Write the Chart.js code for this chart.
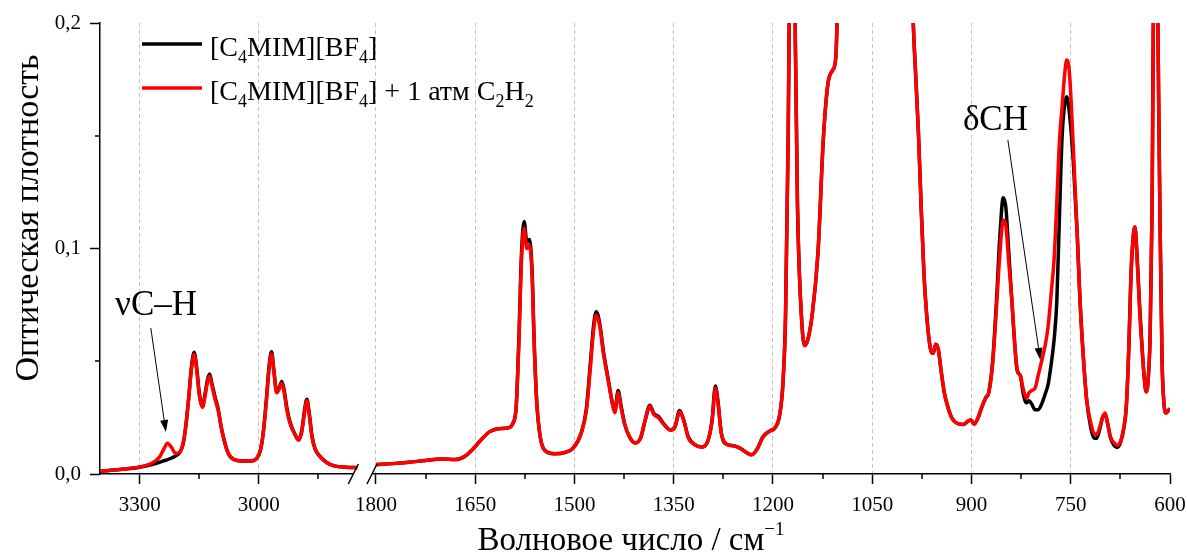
<!DOCTYPE html>
<html>
<head>
<meta charset="utf-8">
<script src="https://cdn.jsdelivr.net/npm/chart.js@4.4.0/dist/chart.umd.min.js"></script>
<style>
  html, body { margin: 0; padding: 0; background: #fff; }
</style>
</head>
<body>
<canvas id="myChart" width="1187" height="553"></canvas>
<script>
// wavenumber (cm-1) and optical density
const wavenumbers = [
  3400, 3350, 3300, 3270, 3250, 3240, 3230, 3220, 3210, 3200, 3191, 3184, 3177, 3170, 3163, 3157, 3150,
  3142, 3135, 3129, 3124, 3118, 3110, 3102, 3095, 3088, 3080, 3072, 3060, 3040, 3020, 3006, 2996, 2989,
  2981, 2974, 2968, 2962, 2955, 2949, 2942, 2936, 2929, 2921, 2910, 2900, 2892, 2885, 2879, 2873, 2866,
  2858, 2846, 2830, 2810, 2780, 2752,
  1800, 1775, 1750, 1725, 1700, 1680, 1666, 1652, 1640, 1628, 1615, 1600, 1593, 1588, 1584, 1580, 1576,
  1572, 1568, 1564, 1561, 1557, 1552, 1545, 1530, 1515, 1502, 1490, 1482, 1476, 1471, 1467, 1462, 1456,
  1449, 1443, 1439, 1434, 1430, 1424, 1416, 1408, 1400, 1393, 1386, 1380, 1373, 1365, 1355, 1348, 1341,
  1335, 1328, 1318, 1308, 1298, 1292, 1287, 1283, 1278, 1270, 1260, 1250, 1240, 1232, 1224, 1215, 1205,
  1197, 1190, 1185, 1181, 1177, 1173, 1170, 1167, 1163, 1157, 1152, 1147, 1141, 1132, 1124, 1117, 1110,
  1105, 1100, 1080, 1040, 1005, 993, 988, 984, 980, 976, 972, 967, 962, 958, 954, 950, 946, 941, 936,
  930, 922, 912, 905, 901, 896, 890, 884, 878, 874, 868, 862, 857, 852, 848, 844, 839, 834, 831, 826,
  822, 817, 813, 809, 804, 799, 794, 788, 784, 779, 775, 771, 767, 763, 759, 756, 752, 746, 740, 736,
  731, 726, 720, 715, 711, 706, 702, 698, 694, 690, 685, 680, 675, 670, 666, 662, 659, 655, 653, 650,
  646, 642, 639, 636, 633, 630, 627, 624, 621, 618, 615, 612, 609, 606, 603, 600
];

const absPure = [
  .0012, .002, .003, .0042, .0052, .0058, .0064, .0071, .008, .0094, .013, .021, .033, .047, .054, .048, .036,
  .030, .036, .042, .0443, .040, .034, .0285, .021, .0155, .0105, .0077, .0063, .0058, .0058, .0068, .0105, .018,
  .033, .048, .0542, .046, .0365, .038, .041, .037, .029, .0228, .018, .0153, .019, .028, .0332, .027, .0168,
  .011, .0078, .0052, .0036, .003, .0028,
  .0042, .0046, .0052, .006, .0066, .0064, .0078, .0115, .0155, .0188, .0201, .0205, .0225, .030, .060, .098, .112,
  .103, .104, .090, .060, .032, .017, .0105, .009, .0095, .0115, .018, .029, .049, .066, .072, .067, .054,
  .042, .032, .0278, .037, .031, .022, .016, .0138, .016, .024, .0305, .0268, .0255, .0222, .0195, .021, .0282,
  .024, .0165, .013, .012, .015, .024, .039, .032, .018, .0132, .0125, .0115, .0095, .0085, .011, .0165, .019,
  .0205, .026, .040, .070, .150, .28, .32, .21, .120, .070, .057, .060, .070, .098, .148, .173, .179,
  .185, .24, .45, .60, .42, .25, .20, .175, .150, .118, .090, .068, .0555, .0535, .0575, .055, .046, .036, .030,
  .025, .0225, .022, .0235, .024, .0222, .025, .030, .034, .036, .050, .078, .106, .1225, .118, .100, .077, .055, .046, .0435,
  .036, .0315, .0325, .031, .0285, .0285, .031, .036, .040, .050, .060, .077, .115, .150, .164, .1673, .160, .138, .105, .077,
  .052, .033, .021, .016, .0158, .020, .025, .0265, .022, .0162, .0128, .0118, .0138, .020, .030, .058, .088, .107, .1095, .098,
  .075, .055, .043, .0365, .042, .062, .120, .25, .27, .19, .11, .05, .031, .027, .028, .029
];

const absC2H2 = [
  .0012, .002, .0031, .0048, .0075, .0108, .0136, .0118, .0092, .0096, .0135, .021, .033, .046, .053, .047, .035,
  .0295, .035, .041, .0433, .039, .033, .028, .021, .0155, .0105, .0077, .0063, .0058, .0058, .0068, .0105, .018,
  .032, .047, .0532, .045, .036, .0375, .0402, .036, .028, .0222, .0178, .015, .0185, .027, .0325, .026, .0163,
  .011, .0078, .0051, .0036, .003, .0028,
  .0042, .0046, .0052, .006, .0066, .0064, .0078, .0115, .0155, .0188, .0201, .0205, .0225, .030, .058, .095, .109,
  .100, .1015, .088, .059, .032, .017, .0105, .009, .0095, .0115, .018, .028, .047, .064, .0705, .066, .053,
  .0415, .0318, .0272, .036, .030, .022, .016, .0138, .016, .024, .030, .0264, .025, .022, .0195, .021, .0276,
  .024, .016, .013, .012, .015, .0235, .038, .031, .018, .0132, .0125, .0115, .0095, .0085, .011, .0165, .019,
  .0205, .026, .040, .070, .150, .28, .32, .21, .120, .070, .057, .060, .070, .098, .148, .173, .179,
  .185, .24, .45, .60, .42, .25, .20, .175, .150, .118, .090, .068, .0555, .0535, .0575, .055, .046, .036, .030,
  .025, .0225, .022, .0235, .024, .0222, .025, .030, .034, .036, .049, .075, .098, .1126, .110, .095, .077, .055, .0465, .0435,
  .038, .0335, .036, .037, .038, .044, .050, .058, .066, .082, .096, .121, .148, .163, .178, .1836, .178, .144, .105, .077,
  .052, .033, .023, .018, .0175, .021, .025, .027, .022, .0165, .014, .0128, .0143, .0205, .030, .058, .088, .107, .1095, .097,
  .073, .055, .043, .0365, .042, .062, .120, .25, .27, .19, .11, .05, .031, .027, .028, .029
];

const seriesNames = ['[C4MIM][BF4]', '[C4MIM][BF4] + 1 атм C2H2'];
const seriesColors = ['#000000', '#ff0000'];
const xTickLabels = [3300, 3000, 1800, 1650, 1500, 1350, 1200, 1050, 900, 750, 600];
const xMinorTicks = [3150, 2850, 1725, 1575, 1425, 1275, 1125, 975, 825, 675];
const yTickLabels = [0, 0.1, 0.2];
const yMinorTicks = [0.05, 0.15];
const axisBreaks = [2762, 1806];

// annotations: [text, wavenumber, absorbance] and arrows [from wn, from abs, to wn, to abs]
const notes = [['νC–H', 3362, 0.0705], ['δCH', 913, 0.1525]];
const arrows = [[3272, 0.0647, 3234, 0.0186], [845, 0.1481, 796, 0.0506]];

// broken axis: 3400-2750 compressed, then 1800-600
const toAxis = wn => wn > 2000 ? (3400 - wn) * 0.6 : 417 + (1800 - wn);
const fromAxis = u => u < 400 ? 3400 - u / 0.6 : 1800 - (u - 417);

function buildPoints(values) {
  const pts = [];
  wavenumbers.forEach((wn, i) => {
    if (i > 0 && wavenumbers[i - 1] > 2000 && wn <= 2000) pts.push({x: 400, y: null});
    pts.push({x: toAxis(wn), y: values[i]});
  });
  return pts;
}

const SERIF = '"Liberation Serif", "Times New Roman", serif';

// parts: [text, 0 normal | 1 subscript | -1 superscript]
function partFont(p, size) {
  if (p[1] === 1) return Math.round(size * 0.65);
  if (p[1] === -1) return Math.round(size * 0.58);
  return size;
}
function drawRich(ctx, parts, x, y, size) {
  parts.forEach(p => {
    ctx.font = partFont(p, size) + 'px ' + SERIF;
    const dy = p[1] === 1 ? size * 0.26 : (p[1] === -1 ? -size * 0.45 : 0);
    ctx.fillText(p[0], x, y + dy);
    x += ctx.measureText(p[0]).width;
  });
  return x;
}
function richWidth(ctx, parts, size) {
  let w = 0;
  parts.forEach(p => {
    ctx.font = partFont(p, size) + 'px ' + SERIF;
    w += ctx.measureText(p[0]).width;
  });
  return w;
}

const legendParts = [
  [['[C', 0], ['4', 1], ['MIM][BF', 0], ['4', 1], [']', 0]],
  [['[C', 0], ['4', 1], ['MIM][BF', 0], ['4', 1], ['] + 1 атм C', 0], ['2', 1], ['H', 0], ['2', 1]]
];

const decorPlugin = {
  id: 'decor',
  afterDraw(chart) {
    const {ctx, chartArea: ca, scales: {x, y}} = chart;
    ctx.save();
    ctx.strokeStyle = '#000';
    ctx.fillStyle = '#000';
    ctx.lineWidth = 1.5;

    // minor ticks
    xMinorTicks.forEach(w => {
      const px = Math.round(x.getPixelForValue(toAxis(w)));
      ctx.beginPath(); ctx.moveTo(px, ca.bottom); ctx.lineTo(px, ca.bottom + 5); ctx.stroke();
    });
    yMinorTicks.forEach(v => {
      const py = Math.round(y.getPixelForValue(v));
      ctx.beginPath(); ctx.moveTo(ca.left, py); ctx.lineTo(ca.left - 5, py); ctx.stroke();
    });

    // axis break
    const b1 = x.getPixelForValue(toAxis(axisBreaks[0]));
    const b2 = x.getPixelForValue(toAxis(axisBreaks[1]));
    ctx.fillStyle = '#fff';
    ctx.fillRect(b1, ca.bottom - 2.5, b2 - b1, 5);
    ctx.fillStyle = '#000';
    [b1, b2].forEach(b => {
      ctx.beginPath(); ctx.moveTo(b - 5, ca.bottom + 10); ctx.lineTo(b + 5, ca.bottom - 10); ctx.stroke();
    });

    // arrows
    ctx.lineWidth = 1;
    arrows.forEach(a => {
      const x1 = x.getPixelForValue(toAxis(a[0])), y1 = y.getPixelForValue(a[1]);
      const x2 = x.getPixelForValue(toAxis(a[2])), y2 = y.getPixelForValue(a[3]);
      const ang = Math.atan2(y2 - y1, x2 - x1);
      const hl = 12, hw = 4;
      const bx = x2 - hl * Math.cos(ang), by = y2 - hl * Math.sin(ang);
      ctx.beginPath(); ctx.moveTo(x1, y1); ctx.lineTo(bx, by); ctx.stroke();
      ctx.beginPath();
      ctx.moveTo(x2, y2);
      ctx.lineTo(bx + hw * Math.sin(ang), by - hw * Math.cos(ang));
      ctx.lineTo(bx - hw * Math.sin(ang), by + hw * Math.cos(ang));
      ctx.closePath(); ctx.fill();
    });

    // annotation labels
    ctx.textAlign = 'left';
    ctx.textBaseline = 'alphabetic';
    ctx.font = '35px ' + SERIF;
    notes.forEach(n => {
      ctx.fillText(n[0], x.getPixelForValue(toAxis(n[1])), y.getPixelForValue(n[2]));
    });

    // legend
    legendParts.forEach((parts, i) => {
      const ly = ca.top + 21 + i * 44;
      ctx.strokeStyle = seriesColors[i];
      ctx.lineWidth = 3.5;
      ctx.beginPath(); ctx.moveTo(ca.left + 42, ly); ctx.lineTo(ca.left + 102, ly); ctx.stroke();
      ctx.fillStyle = '#000';
      drawRich(ctx, parts, ca.left + 110, ly + 12, 28);
    });

    // axis titles
    const xt = [['Волновое число / см', 0], ['−1', -1]];
    const w = richWidth(ctx, xt, 33);
    drawRich(ctx, xt, (ca.left + ca.right) / 2 - 4 - w / 2, 550, 33);

    ctx.translate(38, 218);
    ctx.rotate(-Math.PI / 2);
    ctx.textAlign = 'center';
    ctx.font = '34px ' + SERIF;
    ctx.fillText('Оптическая плотность', 0, 0);
    ctx.restore();
  }
};

Chart.defaults.font.family = SERIF;
Chart.defaults.color = '#000';

const config = {
  type: 'line',
  data: {
    datasets: [
      {
        label: seriesNames[1],
        data: buildPoints(absC2H2),
        borderColor: seriesColors[1],
        borderWidth: 3.5,
        order: 0
      },
      {
        label: seriesNames[0],
        data: buildPoints(absPure),
        borderColor: seriesColors[0],
        borderWidth: 3.5,
        order: 1
      }
    ]
  },
  options: {
    responsive: false,
    animation: false,
    spanGaps: false,
    elements: {
      point: {radius: 0},
      line: {cubicInterpolationMode: 'monotone', fill: false}
    },
    layout: {padding: {top: 23, right: 17, bottom: 0, left: 0}},
    plugins: {
      legend: {display: false},
      tooltip: {enabled: false}
    },
    scales: {
      x: {
        type: 'linear',
        min: 0,
        max: toAxis(600),
        afterBuildTicks: axis => {
          axis.ticks = xTickLabels.map(w => ({value: toAxis(w)}));
        },
        afterFit: scale => {
          scale.height = 79;
          scale.paddingLeft = 0;
          scale.paddingRight = 0;
        },
        ticks: {
          autoSkip: false,
          maxRotation: 0,
          padding: 9,
          font: {size: 21},
          color: '#000',
          callback: value => String(Math.round(fromAxis(value)))
        },
        grid: {
          color: c => (c.tick && c.tick.value === toAxis(600)) ? 'rgba(0,0,0,0)' : '#c4c4c4',
          lineWidth: 1,
          tickLength: 10,
          tickColor: '#000',
          tickWidth: 1.5,
          tickBorderDash: []
        },
        border: {display: true, color: '#000', width: 1.5, dash: [4, 3]}
      },
      y: {
        type: 'linear',
        min: 0,
        max: 0.2,
        afterBuildTicks: axis => {
          axis.ticks = yTickLabels.map(v => ({value: v}));
        },
        afterFit: scale => { scale.width = 100; },
        ticks: {
          padding: 9,
          font: {size: 21},
          color: '#000',
          callback: value => value.toFixed(1).replace('.', ',')
        },
        grid: {
          drawOnChartArea: false,
          tickLength: 10,
          tickColor: '#000',
          tickWidth: 1.5
        },
        border: {display: true, color: '#000', width: 1.5}
      }
    }
  },
  plugins: [decorPlugin]
};

const spectrumChart = new Chart(document.getElementById('myChart').getContext('2d'), config);
</script>
</body>
</html>
